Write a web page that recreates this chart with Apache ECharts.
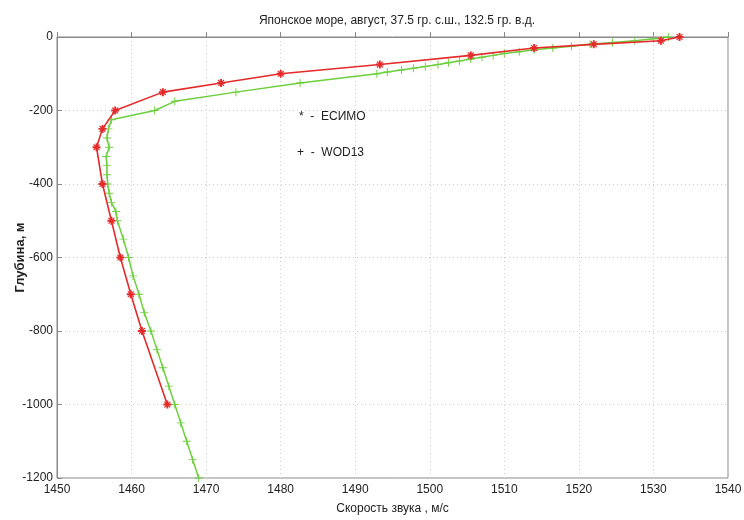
<!DOCTYPE html>
<html>
<head>
<meta charset="utf-8">
<script src="https://cdn.jsdelivr.net/npm/echarts@6/dist/echarts.min.js"></script>
<style>
html,body{margin:0;padding:0;background:#fff;}
#chart{width:744px;height:520px;}
</style>
</head>
<body>
<div id="chart"></div>
<script>
var titleText = 'Японское море, август, 37.5 гр. с.ш., 132.5 гр. в.д.';
var xName = 'Скорость звука , м/с';
var yName = 'Глубина, м';
var xTicks = [1450,1460,1470,1480,1490,1500,1510,1520,1530,1540];
var yTicks = [0,-200,-400,-600,-800,-1000,-1200];

var esimoDepth = [0,10,20,30,50,75,100,125,150,200,250,300,400,500,600,700,800,1000];
var esimoSpeed = [1533.5,1531.0,1522.0,1514.0,1505.5,1493.3,1480.0,1472.0,1464.2,1457.8,1456.1,1455.3,1456.1,1457.3,1458.5,1459.9,1461.4,1464.8];

var wodDepth = [0,5,10,15,20,25,30,35,40,45,50,55,60,65,70,75,80,85,90,95,100,125,150,175,200,225,250,275,300,325,350,375,400,425,450,475,500,550,600,650,700,750,800,850,900,950,1000,1050,1100,1150,1200];
var wodSpeed = [1532.0,1530.0,1527.5,1524.5,1521.5,1519.0,1516.5,1514.0,1512.0,1510.0,1508.5,1507.0,1505.5,1504.0,1502.5,1501.1,1499.4,1497.8,1496.2,1494.3,1492.9,1482.6,1474.0,1465.8,1463.1,1457.3,1456.9,1456.7,1457.0,1456.6,1456.7,1456.7,1456.8,1457.0,1457.3,1457.9,1458.1,1458.9,1459.6,1460.2,1461.0,1461.7,1462.6,1463.4,1464.2,1465.0,1465.8,1466.6,1467.4,1468.2,1469.0];

var legendLabels = ['*  -  ЕСИМО', '+  -  WOD13'];

function pairs(sp, dp){ return sp.map(function(v,i){ return [v, -dp[i]]; }); }

var plusPath = 'path://M-0.6,-5L0.6,-5L0.6,-0.6L5,-0.6L5,0.6L0.6,0.6L0.6,5L-0.6,5L-0.6,0.6L-5,0.6L-5,-0.6L-0.6,-0.6Z';
var starPath = 'path://M-1.2,-5L1.2,-5L1.2,-2.2L3.2,-4.2L4.2,-3.2L2.2,-1.2L5,-1.2L5,1.2L2.2,1.2L4.2,3.2L3.2,4.2L1.2,2.2L1.2,5L-1.2,5L-1.2,2.2L-3.2,4.2L-4.2,3.2L-2.2,1.2L-5,1.2L-5,-1.2L-2.2,-1.2L-4.2,-3.2L-3.2,-4.2L-1.2,-2.2Z';

var font = "'Liberation Sans Narrow','Liberation Sans',Arial,sans-serif";
var chart = echarts.init(document.getElementById('chart'), null, {renderer:'canvas'});
chart.setOption({
  animation:false,
  backgroundColor:'#ffffff',
  title:{text:titleText,left:392,textAlign:'center',top:10,textStyle:{fontSize:12,fontWeight:'normal',color:'#222',fontFamily:font}},
  grid:{left:57,right:16,top:37,bottom:42,containLabel:false,outerBoundsMode:'none',show:true,borderColor:'#888',borderWidth:1,backgroundColor:'transparent'},
  xAxis:{type:'value',min:xTicks[0],max:xTicks[xTicks.length-1],interval:10,
    name:xName,nameLocation:'middle',nameGap:25,nameMoveOverlap:false,nameTextStyle:{fontSize:12,color:'#222',fontFamily:font},
    axisLine:{show:true,lineStyle:{color:'#888'}},
    axisTick:{show:true,inside:true,length:5,lineStyle:{color:'#888'}},
    axisLabel:{fontSize:12,color:'#222',margin:6,fontFamily:font,formatter:function(v){return String(v);}},
    splitLine:{show:true,lineStyle:{color:'#cfcfcf',type:[1,3]}}},
  yAxis:{type:'value',min:yTicks[yTicks.length-1],max:yTicks[0],interval:200,
    name:yName,nameLocation:'middle',nameGap:30,nameMoveOverlap:false,nameRotate:90,nameTextStyle:{fontSize:13,color:'#222',fontWeight:'bold',fontFamily:font},
    axisLine:{show:true,lineStyle:{color:'#888'}},
    axisTick:{show:true,inside:true,length:5,lineStyle:{color:'#888'}},
    axisLabel:{fontSize:12,color:'#222',margin:4,fontFamily:font,formatter:function(v){return String(v);}},
    splitLine:{show:true,lineStyle:{color:'#cfcfcf',type:[1,3]}}},
  graphic:[
    {type:'text',left:299,top:111,style:{text:legendLabels[0],fontSize:12,fill:'#222',fontFamily:font}},
    {type:'text',left:297,top:147,style:{text:legendLabels[1],fontSize:12,fill:'#222',fontFamily:font}}
  ],
  series:[
    {name:'WOD13',type:'line',data:pairs(wodSpeed,wodDepth),symbol:plusPath,symbolSize:8,
      lineStyle:{color:'#6ccf3c',width:1.5},itemStyle:{color:'#6ccf3c'},z:2},
    {name:'ЕСИМО',type:'line',data:pairs(esimoSpeed,esimoDepth),symbol:starPath,symbolSize:8,
      lineStyle:{color:'#e52a2a',width:1.6},itemStyle:{color:'#e52a2a'},z:3}
  ]
});
</script>
</body>
</html>
